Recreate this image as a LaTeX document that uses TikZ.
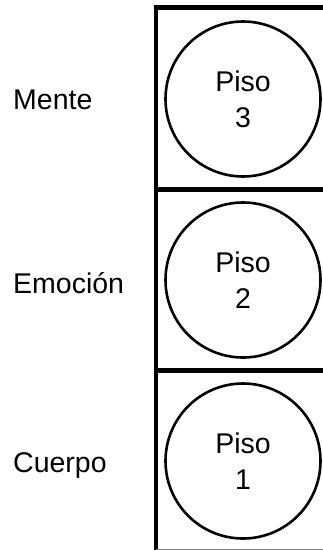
\documentclass[tikz,border=0pt]{standalone}
\usepackage{fontspec}
\setmainfont{Liberation Sans}
\usetikzlibrary{positioning}

\begin{document}
\begin{tikzpicture}[x=1pt,y=-1pt]
    \useasboundingbox (0,0) rectangle (323,550);
    \tikzset{piso/.style={draw, circle, line width=2.6pt, minimum size=155pt, inner sep=0pt, align=center, font=\fontsize{28.5}{36}\selectfont},
             nivel/.style={anchor=west, inner sep=0pt, font=\fontsize{28.5}{34}\selectfont}}
    \draw[line width=4.5pt] (156,5.5) -- (156,550);
    \draw[line width=4.5pt] (154,7.5) -- (323,7.5);
    \draw[line width=4.5pt] (156,189.5) -- (323,189.5);
    \draw[line width=4.5pt] (156,370.5) -- (323,370.5);
    \draw[gray, line width=1pt] (156,549) -- (323,549);
    \node[piso] (p3) at (243,99) {Piso\\3};
    \node[piso] (p2) at (243,280) {Piso\\2};
    \node[piso] (p1) at (243,461) {Piso\\1};
    \node[nivel] (mente) at (13,100) {Mente};
    \node[nivel] (emocion) at (13,283) {Emoción};
    \node[nivel] (cuerpo) at (13,465) {Cuerpo};
\end{tikzpicture}
\end{document}
